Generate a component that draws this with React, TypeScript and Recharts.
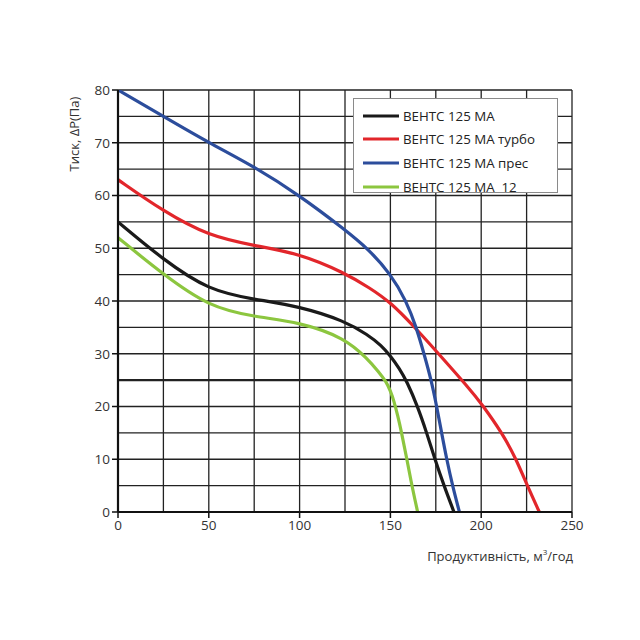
import React from 'react';
import { LineChart, Line, XAxis, YAxis, ReferenceLine, Legend, Label } from 'recharts';

// Flow (m³/h) and pressure (Pa) readings for each fan model
const flowMA = [0, 25, 50, 75, 100, 125, 137.5, 145, 150, 155, 159, 165, 170, 174.5, 179.5, 185];
const pressMA = [55, 47.8, 42, 40.3, 39, 36.2, 33.6, 31.6, 29.6, 27.2, 24.8, 20, 15, 10, 5, 0];

const flowTurbo = [0, 25, 50, 75, 100, 125, 138.5, 150, 164, 175, 193.5, 200, 211.5, 219, 225, 232];
const pressTurbo = [63, 57, 52.3, 50.5, 49, 45.3, 42.5, 39.8, 34.8, 30.6, 23.4, 20.6, 15, 10.2, 5.3, 0];

const flowPres = [0, 25, 50, 75, 100, 125, 138, 150, 158.8, 164.3, 168.5, 172.5, 175.5, 178.2, 181, 184.2, 188];
const pressPres = [80, 75, 70, 65.5, 60, 53.5, 49.8, 45.2, 40, 35, 30, 25, 20, 15, 10, 5, 0];

const flow12 = [0, 25, 50, 75, 100, 125, 137.5, 143.5, 147.5, 150, 152, 154, 156, 158.8, 161.7, 165];
const press12 = [52, 45, 38.9, 37, 36, 33, 29, 26.6, 24.8, 23.0, 21.0, 18.3, 15.3, 10.5, 5.2, 0];

const seriesNames = ['ВЕНТС 125 МА', 'ВЕНТС 125 МА турбо', 'ВЕНТС 125 МА прес', 'ВЕНТС 125 МА  12'];
const seriesColors = ['#1a1a1a', '#e2262b', '#2c4d9c', '#8cc63f'];

const xTicks = [0, 50, 100, 150, 200, 250];
const yTicks = [0, 10, 20, 30, 40, 50, 60, 70, 80];
const xGrid = [25, 50, 75, 100, 125, 150, 175, 200, 225, 250];
const yGrid = [5, 10, 15, 20, 25, 30, 35, 40, 45, 50, 55, 60, 65, 70, 75, 80];

const yTitle = 'Тиск, ΔP(Па)';
const xTitleMain = 'Продуктивність, м';
const xTitleSup = '3';
const xTitleEnd = '/год';

const toPoints = (xs: number[], ys: number[]) => xs.map((x, i) => ({ x, y: ys[i] }));
const seriesData = [
  toPoints(flowMA, pressMA),
  toPoints(flowTurbo, pressTurbo),
  toPoints(flowPres, pressPres),
  toPoints(flow12, press12),
];

const FONT = '"Open Sans", "Noto Sans", sans-serif';

const LegendBox = () => (
  <div
    style={{
      width: 205,
      height: 95,
      border: '1px solid #8a8a8a',
      background: '#fff',
      boxSizing: 'border-box',
      paddingTop: 5,
    }}
  >
    {seriesNames.map((name, i) => (
      <div key={name} style={{ display: 'flex', alignItems: 'center', height: 23.6 }}>
        <svg width={50} height={10} style={{ display: 'block' }}>
          <line x1={9} x2={45} y1={5} y2={5} stroke={seriesColors[i]} strokeWidth={3.2} />
        </svg>
        <span style={{ fontFamily: FONT, fontSize: 13.3, color: '#222', whiteSpace: 'pre', marginLeft: -1 }}>{name}</span>
      </div>
    ))}
  </div>
);

export default function App() {
  return (
    <div style={{ width: 624, height: 624 }}>
      <LineChart width={624} height={624} margin={{ top: 82, right: 60, bottom: 90, left: 70 }}>
        <XAxis
          type="number"
          dataKey="x"
          domain={[0, 250]}
          ticks={xTicks}
          interval={0}
          height={30}
          axisLine={{ stroke: '#111', strokeWidth: 2.2 }}
          tickLine={{ stroke: '#111', strokeWidth: 1.5 }}
          tickSize={6}
          tick={{ fill: '#333', fontSize: 13.5, fontFamily: FONT }}
          allowDataOverflow
        >
          <Label
            content={(props: any) => {
              const vb = props.viewBox || {};
              return (
                <text
                  x={vb.x + vb.width + 1}
                  y={vb.y + 49}
                  textAnchor="end"
                  fill="#333"
                  fontSize={13}
                  fontFamily={FONT}
                >
                  {xTitleMain}
                  <tspan fontSize={8} dy={-6}>{xTitleSup}</tspan>
                  <tspan dy={6}>{xTitleEnd}</tspan>
                </text>
              );
            }}
          />
        </XAxis>
        <YAxis
          type="number"
          domain={[0, 80]}
          ticks={yTicks}
          interval={0}
          width={40}
          axisLine={{ stroke: '#111', strokeWidth: 2.2 }}
          tickLine={{ stroke: '#111', strokeWidth: 1.5 }}
          tickSize={6}
          tick={{ fill: '#333', fontSize: 13.5, fontFamily: FONT }}
          allowDataOverflow
        >
          <Label
            content={(props: any) => {
              const vb = props.viewBox || {};
              const cx = vb.x - 4;
              const cy = vb.y + 44;
              return (
                <text
                  x={cx}
                  y={cy}
                  transform={`rotate(-90 ${cx} ${cy})`}
                  textAnchor="middle"
                  dominantBaseline="central"
                  fill="#333"
                  fontSize={13}
                  fontFamily={FONT}
                >
                  {yTitle}
                </text>
              );
            }}
          />
        </YAxis>
        {xGrid.map((v) => (
          <ReferenceLine key={'vx' + v} x={v} stroke="#222" strokeWidth={1.3} ifOverflow="extendDomain" />
        ))}
        {yGrid.map((v) => (
          <ReferenceLine
            key={'hy' + v}
            y={v}
            stroke="#222"
            strokeWidth={v === 25 ? 2.2 : 1.3}
            ifOverflow="extendDomain"
          />
        ))}
        {seriesData.map((d, i) => (
          <Line
            key={seriesNames[i]}
            data={d}
            dataKey="y"
            name={seriesNames[i]}
            type="basis"
            stroke={seriesColors[i]}
            strokeWidth={3.2}
            dot={false}
            activeDot={false}
            isAnimationActive={false}
          />
        ))}
        <Legend
          layout="horizontal"
          verticalAlign="middle"
          align="center"
          content={() => <LegendBox />}
          wrapperStyle={{ position: 'absolute', left: 345, top: 90, width: 205, bottom: 'auto', right: 'auto' }}
        />
      </LineChart>
    </div>
  );
}
